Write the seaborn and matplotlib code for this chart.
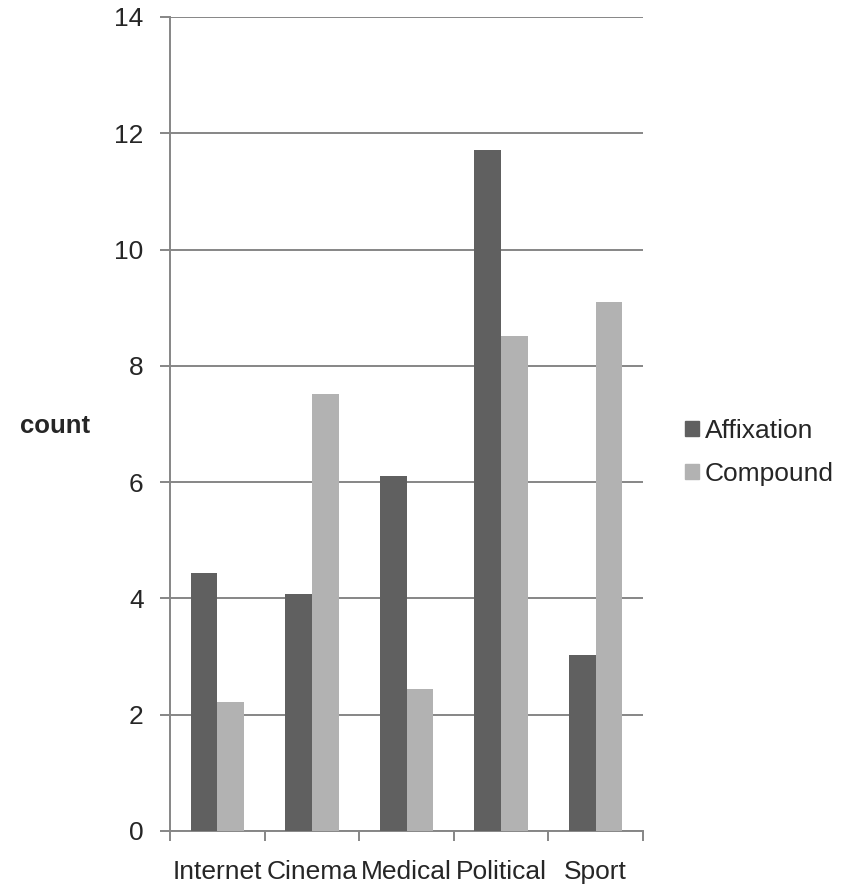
import pandas as pd
import numpy as np
import matplotlib
matplotlib.use("Agg")
import matplotlib.pyplot as plt
import seaborn as sns

# values
categories = ['Internet', 'Cinema', 'Medical', 'Political', 'Sport']
affixation = [4.44, 4.07, 6.10, 11.71, 3.02]
compound = [2.22, 7.51, 2.44, 8.51, 9.09]
series = ['Affixation', 'Compound']
colors = ['#606060', '#b2b2b2']

df = pd.DataFrame({
    'category': categories * 2,
    'count': affixation + compound,
    'type': [series[0]] * len(categories) + [series[1]] * len(categories),
})

sns.set_style('white')
plt.rcParams['font.family'] = ['Liberation Sans', 'DejaVu Sans']

fig = plt.figure(figsize=(8.56, 8.86), dpi=100)
ax = fig.add_axes([170 / 856, 1 - 831 / 886, (643 - 170) / 856, (831 - 17) / 886])

sns.barplot(data=df, x='category', y='count', hue='type', order=categories,
            hue_order=series, palette=colors, saturation=1, width=0.565,
            linewidth=0, ax=ax, zorder=3)

ax.set_ylim(0, 14)
ax.set_xlim(-0.5, len(categories) - 0.5)
ax.set_yticks(np.arange(0, 15, 2))
ax.yaxis.grid(True, color='#868686', linewidth=1.4, zorder=0)
ax.set_axisbelow(True)
ax.xaxis.grid(False)

for s in ['top', 'right']:
    ax.spines[s].set_visible(False)
for s in ['left', 'bottom']:
    ax.spines[s].set_color('#868686')
    ax.spines[s].set_linewidth(1.4)

# tick marks sit between the categories
ax.set_xticks(np.arange(-0.5, len(categories), 1), minor=True)
ax.tick_params(axis='x', which='major', length=0, labelsize=19, pad=21)
ax.tick_params(axis='x', which='minor', length=7, width=1.4, color='#868686', direction='out', bottom=True)
ax.tick_params(axis='y', length=7, width=1.4, color='#868686', direction='out', left=True, labelsize=19, pad=12)

ax.set_xlabel('')
ax.set_ylabel('')
fig.text(55 / 856, 1 - 426 / 886, 'count', fontsize=18.5, fontweight='bold', ha='center', va='center')

ax.legend_.remove()
handles = [plt.Rectangle((0, 0), 1, 1, color=c) for c in colors]
fig.legend(handles, series, loc='center left', bbox_to_anchor=(685 / 856, 1 - 452.5 / 886),
           frameon=False, fontsize=19, handlelength=0.53, handleheight=0.5,
           handletextpad=0.22, labelspacing=0.7, borderpad=0, borderaxespad=0)

fig.savefig('out.png', dpi=100)
